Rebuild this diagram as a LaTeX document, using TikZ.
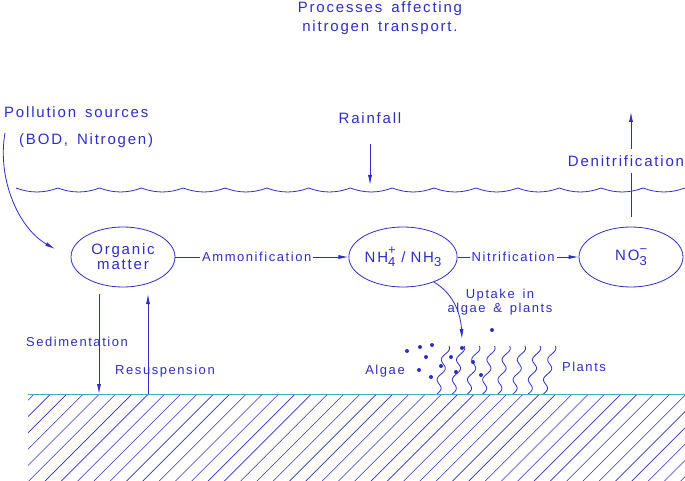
\documentclass[tikz,border=0pt]{standalone}
\usepackage{fontspec}
\newfontfamily\cadfont[LetterSpace=12,WordSpace=1.5]{Liberation Sans}
\usetikzlibrary{arrows.meta,shapes.geometric}
\definecolor{inkblue}{RGB}{45,45,200}
\definecolor{bedcyan}{RGB}{60,175,190}
% stacked sub- and superscript for the ions
\newcommand{\ionidx}[2]{\rlap{\raisebox{0.5em}{\fontsize{13}{13}\selectfont#2}}\raisebox{-0.3em}{\fontsize{13}{13}\selectfont#1}}

\begin{document}
\begin{tikzpicture}[x=1pt,y=-1pt,
    big/.style={text=inkblue,font=\cadfont\fontsize{15}{15}\selectfont},
    small/.style={text=inkblue,font=\cadfont\fontsize{13}{14}\selectfont},
    pool/.style={draw=inkblue,line width=0.8pt,ellipse,minimum width=104pt,
      minimum height=60pt,inner sep=0pt,align=center,big},
    flow/.style={draw=inkblue,line width=0.8pt,-{Latex[length=10pt,width=4pt]}},
    onflow/.style={small,fill=white,inner xsep=2pt,inner ysep=1pt}]
  \useasboundingbox (0,0) rectangle (685,481);

  % titles
  \node[big,align=center,font=\cadfont\fontsize{15}{19}\selectfont] (title) at (380,18)
    {Processes affecting\\nitrogen transport.};
  \node[big,anchor=base west,inner sep=0pt] (poll) at (4,118) {Pollution sources};
  \node[big,anchor=base west,inner sep=0pt] (bod) at (19,145) {(BOD, Nitrogen)};
  \node[big,anchor=base,inner sep=0pt] (rain) at (370,124) {Rainfall};

  % water surface
  \foreach \k in {0,...,15}
    \draw[inkblue,line width=0.8pt] (16+41.8*\k,188) .. controls +(14,5.3) and +(-14,5.3) .. (57.8+41.8*\k,188);

  % nitrogen pools
  \node[pool] (org) at (123,257) {Organic\\matter};
  \node[pool] (nh) at (403,257) {NH\ionidx{4}{+}\kern6pt/\kern5ptNH\ionidx{3}{}};
  \node[pool] (no3) at (631,257) {NO\ionidx{3}{−}};

  \coordinate (pollstart) at (5,133);
  \coordinate (pollend) at (55,249);
  \coordinate (raintip) at (370,185);
  \coordinate (denitop) at (631,112);
  \coordinate (sedtop) at (99,294);
  \coordinate (sedbot) at (99,394);
  \coordinate (restop) at (148,294);
  \coordinate (resbot) at (148,394);
  \coordinate (uptip) at (462,339);

  \draw[flow] (pollstart) .. controls (-3,178) and (18,228) .. (pollend);
  \draw[flow] ([yshift=-20pt]rain.base) -- (raintip);
  \draw[flow] (org) -- node[onflow,pos=0.47] (amm) {Ammonification} (nh);
  \draw[flow] (nh) -- node[onflow,pos=0.46] (nit) {Nitrification} (no3);
  \draw[flow,shorten <=10pt] (no3) -- (denitop);
  \node[big,fill=white,inner xsep=1pt,inner ysep=6pt] (deni) at (626,161) {Denitrification};
  \draw[flow] (nh.-39) .. controls (456,295) and (461,318) .. (uptip);
  \draw[flow] (sedtop) -- (sedbot);
  \draw[flow] (resbot) -- (restop);

  \node[small] (sed) at (77,342) {Sedimentation};
  \node[small] (res) at (165,371) {Resuspension};
  \node[small,align=center] (uptake) at (500,302) {Uptake in\\algae \& plants};
  \node[small] (algae) at (385,371) {Algae};
  \node[small] (plants) at (584,367) {Plants};

  % algae and plants
  \foreach \p in {(407,351),(420,347),(432,345),(426,357),(451,357),(462,348),(492,330),
      (441,366),(419,370),(456,372),(473,362),(431,377),(481,375)}
    \fill[inkblue] \p circle (2pt);
  \foreach \n in {0,...,7}
    \draw[inkblue,line width=0.8pt] plot[domain=0:48,samples=60,smooth]
      ({437+15.2*\n+0.21*\x+3*sin(18*\x)},{394-\x});

  % bottom
  \begin{scope}
    \clip (28,394) rectangle (685,481);
    \foreach \i in {0,...,47}
      \draw[inkblue,line width=0.6pt] (18+16.3*\i,394) -- ++(-100,100);
  \end{scope}
  \draw[bedcyan,line width=0.9pt] (28,394) -- (685,394);
\end{tikzpicture}
\end{document}
